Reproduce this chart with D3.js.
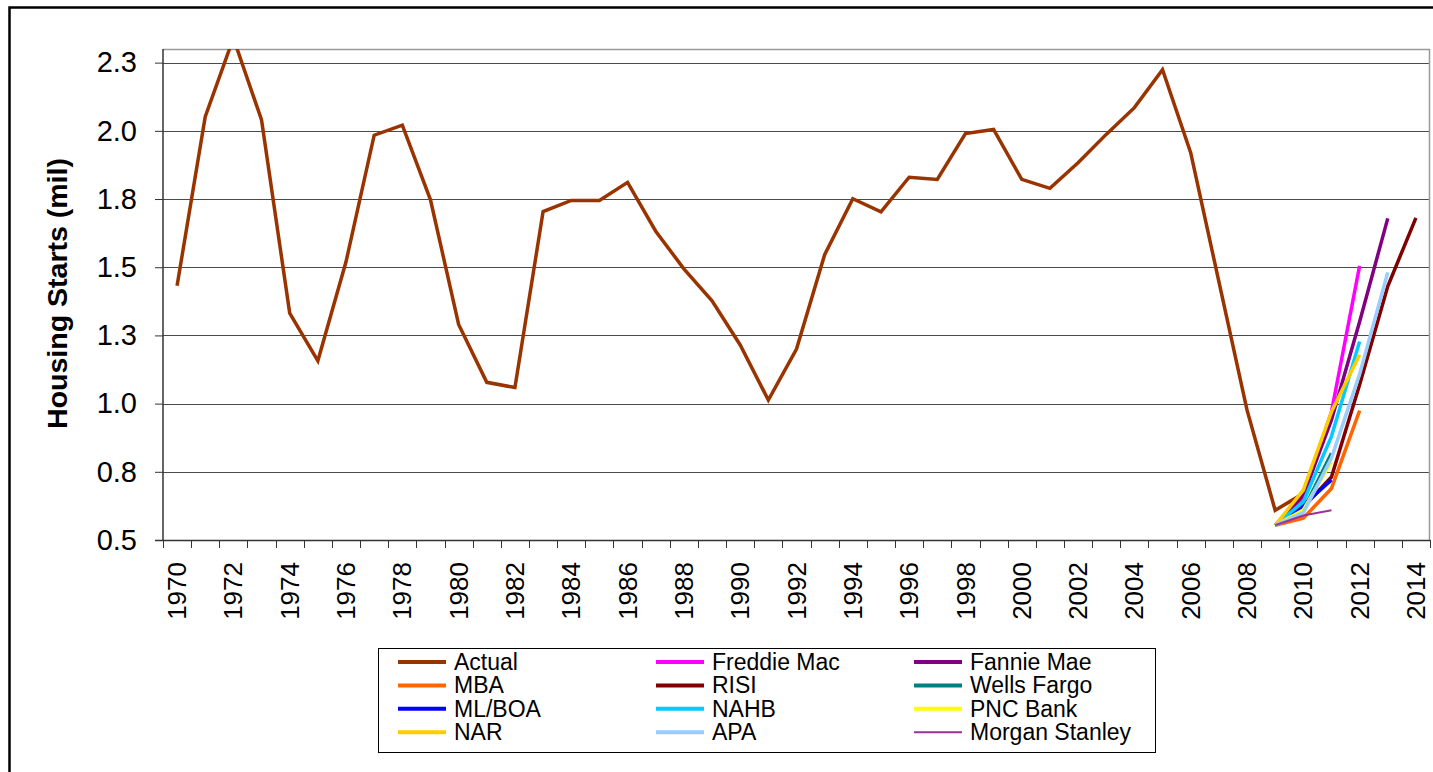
<!DOCTYPE html>
<html>
<head>
<meta charset="utf-8">
<script src="https://cdn.jsdelivr.net/npm/d3@7"></script>
<style>
  body { margin: 0; background: #fff; }
  svg { display: block; font-family: "Liberation Sans", Arial, sans-serif; }
</style>
</head>
<body>
<div id="chart"></div>
<script>
// Years on the category axis
const years = d3.range(1970, 2015);
const labelYears = years.filter(y => y % 2 === 0);
const yTicks = [0.5, 0.75, 1.0, 1.25, 1.5, 1.75, 2.0, 2.25];

// Actual housing starts 1970-2010 (millions)
const actualYears = d3.range(1970, 2011);
const actual = [1.432, 2.052, 2.34, 2.04, 1.332, 1.157, 1.52, 1.984, 2.021, 1.747,
  1.29, 1.078, 1.059, 1.704, 1.745, 1.745, 1.811, 1.632, 1.494, 1.377,
  1.215, 1.013, 1.20, 1.546, 1.751, 1.703, 1.83, 1.822, 1.99, 2.005,
  1.822, 1.789, 1.883, 1.987, 2.085, 2.224, 1.92, 1.448, 0.977, 0.609,
  0.67];

// Forecasts, all starting in 2009
const freddieMac = [0.554, 0.653, 0.97, 1.505];
const fannieMae = [0.554, 0.664, 0.94, 1.30, 1.679];
const mba = [0.554, 0.58, 0.689, 0.974];
const risi = [0.554, 0.62, 0.731, 1.069, 1.43, 1.681];
const wellsFargo = [0.554, 0.61, 0.818];
const mlBoa = [0.554, 0.628, 0.72];
const nahb = [0.554, 0.64, 0.88, 1.228];
const pncBank = [0.554, 0.61, 0.787];
const nar = [0.554, 0.683, 0.97, 1.179];
const apa = [0.554, 0.60, 0.80, 1.108, 1.481];
const morganStanley = [0.554, 0.59, 0.609];

const series = [
  { name: "Actual", color: "#993300", w: 3.5, start: 1970, values: actual },
  { name: "Freddie Mac", color: "#ff00ff", w: 3.5, start: 2009, values: freddieMac },
  { name: "Fannie Mae", color: "#800080", w: 3.5, start: 2009, values: fannieMae },
  { name: "MBA", color: "#ff6600", w: 3.5, start: 2009, values: mba },
  { name: "RISI", color: "#800000", w: 3.5, start: 2009, values: risi },
  { name: "Wells Fargo", color: "#008080", w: 3.5, start: 2009, values: wellsFargo },
  { name: "ML/BOA", color: "#0000ff", w: 3.5, start: 2009, values: mlBoa },
  { name: "NAHB", color: "#00ccff", w: 3.5, start: 2009, values: nahb },
  { name: "PNC Bank", color: "#ffff00", w: 3.5, start: 2009, values: pncBank },
  { name: "NAR", color: "#ffcc00", w: 3.5, start: 2009, values: nar },
  { name: "APA", color: "#99ccff", w: 3.5, start: 2009, values: apa },
  { name: "Morgan Stanley", color: "#993399", w: 2, start: 2009, values: morganStanley }
];

const width = 1433, height = 772;
const marginLeft = 163, marginRight = 3, marginTop = 49, plotBottom = 540;

const svg = d3.select("#chart").append("svg")
  .attr("width", width)
  .attr("height", height);

// outer chart frame (runs off the right and bottom edges)
svg.append("rect")
  .attr("x", 9.5).attr("y", 7.5)
  .attr("width", 1450).attr("height", 800)
  .attr("fill", "none").attr("stroke", "#000").attr("stroke-width", 2.5);

const x = d3.scaleBand()
  .domain(years)
  .range([marginLeft, width - marginRight])
  .padding(0);
const cx = yr => x(yr) + x.bandwidth() / 2;

const y = d3.scaleLinear()
  .domain([0.5, 2.3])
  .range([plotBottom, marginTop]);

// gridlines
svg.append("g")
  .selectAll("line")
  .data(yTicks.slice(1))
  .join("line")
  .attr("x1", marginLeft).attr("x2", width - marginRight)
  .attr("y1", d => Math.round(y(d)) + 0.5).attr("y2", d => Math.round(y(d)) + 0.5)
  .attr("stroke", "#4a4a4a").attr("stroke-width", 1);

// plot border top & right
svg.append("path")
  .attr("d", `M${marginLeft},${marginTop + 0.5}H${width - marginRight - 0.5}V${plotBottom}`)
  .attr("fill", "none").attr("stroke", "#999").attr("stroke-width", 1.5);

// y axis
svg.append("g")
  .attr("transform", `translate(${marginLeft},0)`)
  .call(d3.axisLeft(y).tickValues(yTicks).tickFormat(d3.format(".1f")).tickSize(8).tickPadding(18))
  .call(g => g.select(".domain").attr("stroke", "#333").attr("stroke-width", 1.5).attr("d", `M0,${marginTop}V${plotBottom}`))
  .call(g => g.selectAll(".tick line").attr("stroke", "#333"))
  .call(g => g.selectAll(".tick text")
    .attr("font-size", 29).attr("fill", "#000")
    .attr("font-family", "Liberation Sans, Arial, sans-serif"));

// x axis: ticks between categories
svg.append("g")
  .selectAll("line")
  .data(years.map(d => x(d)).concat([x.range()[1]]))
  .join("line")
  .attr("x1", d => Math.round(d) + 0.5).attr("x2", d => Math.round(d) + 0.5)
  .attr("y1", plotBottom).attr("y2", plotBottom + 8)
  .attr("stroke", "#333").attr("stroke-width", 1);

svg.append("line")
  .attr("x1", marginLeft - 8).attr("x2", width - marginRight)
  .attr("y1", plotBottom + 0.5).attr("y2", plotBottom + 0.5)
  .attr("stroke", "#333").attr("stroke-width", 1.5);

svg.append("g")
  .attr("transform", `translate(0,${plotBottom})`)
  .call(d3.axisBottom(x).tickValues(labelYears).tickSize(0))
  .call(g => g.select(".domain").remove())
  .call(g => g.selectAll(".tick text")
    .attr("font-size", 26).attr("fill", "#000")
    .attr("font-family", "Liberation Sans, Arial, sans-serif")
    .attr("text-anchor", "end")
    .attr("dy", "0.35em")
    .attr("transform", "translate(0,22) rotate(-90)")
    .attr("y", 0).attr("x", 0));

// y title
svg.append("text")
  .attr("transform", `translate(67,${(marginTop + plotBottom) / 2 - 1}) rotate(-90)`)
  .attr("text-anchor", "middle")
  .attr("font-size", 28.5).attr("font-weight", "bold")
  .text("Housing Starts (mil)");

// clip lines to the plot area
svg.append("clipPath").attr("id", "plotclip")
  .append("rect")
  .attr("x", marginLeft).attr("y", marginTop)
  .attr("width", width - marginRight - marginLeft).attr("height", plotBottom - marginTop);

const line = d3.line()
  .x(d => cx(d[0]))
  .y(d => y(d[1]));

svg.append("g")
  .attr("clip-path", "url(#plotclip)")
  .selectAll("path")
  .data(series)
  .join("path")
  .attr("fill", "none")
  .attr("stroke", d => d.color)
  .attr("stroke-width", d => d.w)
  .attr("stroke-linejoin", "miter")
  .attr("d", d => line(d.values.map((v, i) => [d.start + i, v])));

// legend
const legendX = 378, legendY = 648;
const legend = svg.append("g");
legend.append("rect")
  .attr("x", legendX + 0.5).attr("y", legendY + 0.5)
  .attr("width", 777).attr("height", 104)
  .attr("fill", "#fff").attr("stroke", "#000").attr("stroke-width", 1);

const items = legend.selectAll("g.item")
  .data(series)
  .join("g")
  .attr("class", "item")
  .attr("transform", (d, i) => `translate(${legendX + 20 + (i % 3) * 258},${legendY + 14 + Math.floor(i / 3) * 23.4})`);

items.append("line")
  .attr("x1", 0).attr("x2", 48)
  .attr("stroke", d => d.color)
  .attr("stroke-width", d => d.w === 2 ? 2 : 4);

items.append("text")
  .attr("x", 56)
  .attr("dy", "0.35em")
  .attr("font-size", 23)
  .text(d => d.name);
</script>
</body>
</html>
